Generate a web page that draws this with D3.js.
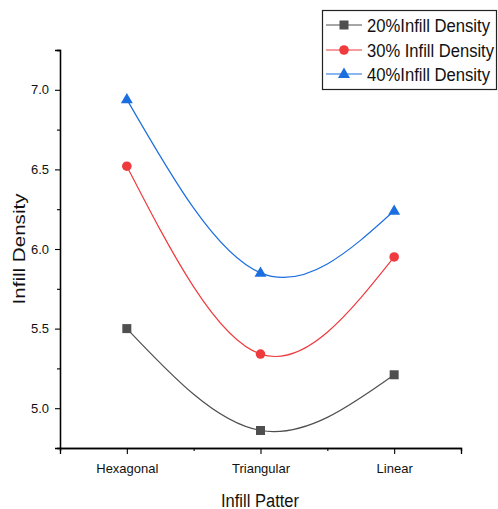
<!DOCTYPE html>
<html>
<head>
<meta charset="utf-8">
<script src="https://cdn.jsdelivr.net/npm/d3@7"></script>
<style>
  html, body { margin: 0; padding: 0; background: #fff; }
  svg { display: block; font-family: "Liberation Sans", Arial, sans-serif; }
</style>
</head>
<body>
<svg id="chart" width="498" height="509"></svg>
<script>
// ---- data ----
const categories = ["Hexagonal", "Triangular", "Linear"];
const series20 = [5.50, 4.86, 5.21];
const series30 = [6.52, 5.34, 5.95];
const series40 = [6.94, 5.85, 6.24];
const seriesNames = ["20%Infill Density", "30% Infill Density", "40%Infill Density"];
const yMajorTicks = [5.0, 5.5, 6.0, 6.5, 7.0];
const yMinorTicks = [4.75, 5.25, 5.75, 6.25, 6.75, 7.25];
const xMinorTicks = [0.5, 1.5, 2.5, 3.5];

(function () {
const seriesDefs = [
  { name: seriesNames[0], values: series20, color: "#4f4f4f", marker: "square" },
  { name: seriesNames[1], values: series30, color: "#ef3b3e", marker: "circle" },
  { name: seriesNames[2], values: series40, color: "#1b6ee0", marker: "triangle" }
];

const svg = d3.select("#chart");
const plotL = 60, plotR = 461, plotT = 50, plotB = 448;

const x = d3.scaleLinear().domain([0.5, 3.5]).range([plotL, plotR]);
const y = d3.scaleLinear().domain([4.75, 7.25]).range([plotB, plotT]);

// axes
const yAxis = d3.axisLeft(y).tickValues(yMajorTicks).tickSize(5).tickPadding(6)
  .tickFormat(d3.format(".1f"));
const yMinor = d3.axisLeft(y).tickValues(yMinorTicks).tickSize(3).tickFormat("");
const xAxis = d3.axisBottom(x).tickValues([1, 2, 3]).tickSize(6).tickPadding(10)
  .tickFormat((d) => categories[d - 1]);
const xMinor = d3.axisBottom(x).tickValues(xMinorTicks).tickSize(3).tickFormat("");

function styleAxis(g) {
  g.selectAll("path.domain").attr("stroke", "#000").attr("stroke-width", 1.3);
  g.selectAll(".tick line").attr("stroke", "#000").attr("stroke-width", 1.1);
  g.selectAll(".tick text").attr("fill", "#111").style("font-size", "13px")
    .style("font-family", "\"Liberation Sans\", Arial, sans-serif");
}

svg.append("g").attr("transform", `translate(${plotL},0)`).call(yMinor).call(styleAxis);
svg.append("g").attr("transform", `translate(${plotL},0)`).call(yAxis).call(styleAxis);
svg.append("g").attr("transform", `translate(0,${plotB})`).call(xMinor).call(styleAxis);
svg.append("g").attr("transform", `translate(0,${plotB})`).call(xAxis).call(styleAxis);

// axis titles
svg.append("text")
  .attr("x", 260).attr("y", 507)
  .attr("text-anchor", "middle")
  .attr("textLength", 78).attr("lengthAdjust", "spacingAndGlyphs")
  .style("font-size", "18px").attr("fill", "#111")
  .text("Infill Patter");

svg.append("text")
  .attr("transform", "translate(25,249) rotate(-90)")
  .attr("text-anchor", "middle")
  .attr("textLength", 111).attr("lengthAdjust", "spacingAndGlyphs")
  .style("font-size", "17px").attr("fill", "#111")
  .text("Infill Density");

// lines
const line = d3.line()
  .x((d, i) => x(i + 1))
  .y((d) => y(d))
  .curve(d3.curveNatural);

function drawMarker(g, type, cx, cy, color) {
  if (type === "square") {
    g.append("rect").attr("x", cx - 4.5).attr("y", cy - 4.5)
      .attr("width", 9).attr("height", 9).attr("fill", color);
  } else if (type === "circle") {
    g.append("circle").attr("cx", cx).attr("cy", cy).attr("r", 4.8).attr("fill", color);
  } else {
    const s = d3.symbol().type(d3.symbolTriangle).size(62);
    g.append("path").attr("d", s()).attr("transform", `translate(${cx},${cy + 0.5})`)
      .attr("fill", color);
  }
}

seriesDefs.forEach((s) => {
  svg.append("path")
    .datum(s.values)
    .attr("d", line)
    .attr("fill", "none")
    .attr("stroke", s.color)
    .attr("stroke-width", 1.2);
  const g = svg.append("g");
  s.values.forEach((v, i) => drawMarker(g, s.marker, x(i + 1), y(v), s.color));
});

// legend
const lg = svg.append("g");
lg.append("rect").attr("x", 322.5).attr("y", 10.5).attr("width", 174).attr("height", 79)
  .attr("fill", "#fff").attr("stroke", "#222").attr("stroke-width", 1.2);
const legendRowsY = [25, 50, 74];
const legendLengths = [123, 127, 123];
seriesDefs.forEach((s, i) => {
  const cy = legendRowsY[i];
  lg.append("line").attr("x1", 326).attr("x2", 362).attr("y1", cy).attr("y2", cy)
    .attr("stroke", s.color).attr("stroke-width", 1.2);
  drawMarker(lg, s.marker, 344, cy, s.color);
  lg.append("text").attr("x", 367).attr("y", cy + 6.5)
    .attr("textLength", legendLengths[i]).attr("lengthAdjust", "spacingAndGlyphs")
    .style("font-size", "18px").attr("fill", "#111")
    .text(s.name);
});
})();
</script>
</body>
</html>
